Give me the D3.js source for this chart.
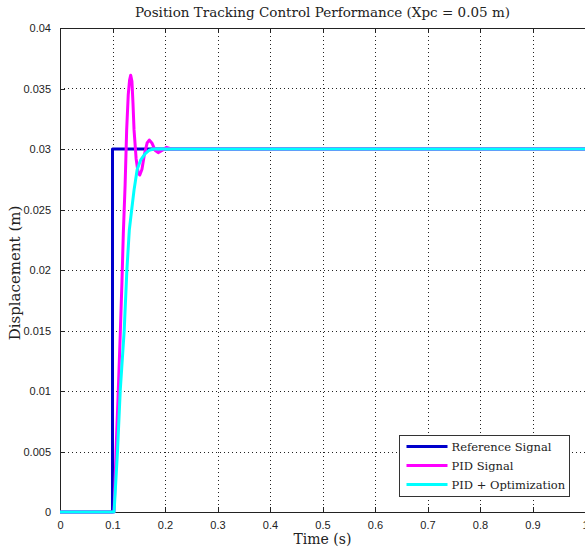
<!DOCTYPE html>
<html>
<head>
<meta charset="utf-8">
<script src="https://cdn.jsdelivr.net/npm/d3@7"></script>
<style>
  body { margin: 0; background: #fff; }
  .grid line { stroke: #222; stroke-dasharray: 1,3; shape-rendering: crispEdges; }
  .axis text { font-family: "Liberation Sans", Arial, sans-serif; font-size: 11px; fill: #222; }
  .axis path, .axis line { stroke: #222; shape-rendering: crispEdges; }
  .serif { font-family: "DejaVu Serif", serif; fill: #222; }
</style>
</head>
<body>
<div id="chart"></div>
<script>
// data
var xTicks = [0, 0.1, 0.2, 0.3, 0.4, 0.5, 0.6, 0.7, 0.8, 0.9, 1];
var xTickLabels = ["0", "0.1", "0.2", "0.3", "0.4", "0.5", "0.6", "0.7", "0.8", "0.9", "1"];
var yTicks = [0, 0.005, 0.01, 0.015, 0.02, 0.025, 0.03, 0.035, 0.04];
var yTickLabels = ["0", "0.005", "0.01", "0.015", "0.02", "0.025", "0.03", "0.035", "0.04"];

var seriesNames = ["Reference Signal", "PID Signal", "PID + Optimization"];
var seriesColors = ["#0000cc", "#ff00ff", "#00ffff"];

var refTime = [0, 0.1, 0.1, 1.0];
var refValue = [0, 0, 0.03, 0.03];

var pidTime = [0, 0.103, 0.1067, 0.111, 0.115, 0.118, 0.1206, 0.124, 0.127, 0.130, 0.1325, 0.1347,
  0.137, 0.139, 0.141, 0.145, 0.149, 0.152, 0.156, 0.161, 0.166, 0.170, 0.175, 0.181, 0.187,
  0.195, 0.203, 0.212, 1.0];
var pidValue = [0, 0, 0.005, 0.010, 0.015, 0.019, 0.023, 0.027, 0.0316, 0.0345, 0.0357, 0.0361,
  0.0356, 0.0338, 0.0316, 0.0292, 0.0280, 0.02785, 0.0283, 0.0296, 0.0305, 0.03074, 0.0305, 0.0299, 0.0297,
  0.0299, 0.03014, 0.0300, 0.0300];

var optTime = [0, 0.103, 0.1095, 0.1147, 0.1223, 0.1274, 0.132, 0.1366, 0.141, 0.147, 0.1537,
  0.162, 0.170, 0.178, 1.0];
var optValue = [0, 0, 0.005, 0.010, 0.015, 0.020, 0.0233, 0.025, 0.0266, 0.0283, 0.0291,
  0.0296, 0.0299, 0.0300, 0.0300];

var W = 585, H = 552;
var margin = {top: 28, right: 0, bottom: 40, left: 60};
var width = W - margin.left - margin.right,
    height = H - margin.top - margin.bottom;

var svg = d3.select("#chart").append("svg")
    .attr("width", W)
    .attr("height", H);

var g = svg.append("g")
    .attr("transform", "translate(" + margin.left + "," + margin.top + ")");

var x = d3.scaleLinear().domain([0, 1]).range([0, width]);
var y = d3.scaleLinear().domain([0, 0.04]).range([height, 0]);

// dotted grid
g.append("g").attr("class", "grid")
  .selectAll("line").data(xTicks.slice(1, -1)).enter().append("line")
    .attr("x1", function(d) { return Math.round(x(d)) + 0.5; })
    .attr("x2", function(d) { return Math.round(x(d)) + 0.5; })
    .attr("y1", 0).attr("y2", height);
g.append("g").attr("class", "grid")
  .selectAll("line").data(yTicks.slice(1, -1)).enter().append("line")
    .attr("y1", function(d) { return Math.round(y(d)) + 0.5; })
    .attr("y2", function(d) { return Math.round(y(d)) + 0.5; })
    .attr("x1", 0).attr("x2", width);

// axes, ticks pointing inwards like matlab
g.append("g")
    .attr("class", "axis")
    .attr("transform", "translate(0," + height + ")")
    .call(d3.axisBottom(x).tickValues(xTicks).tickSizeInner(-5).tickSizeOuter(0).tickPadding(9)
      .tickFormat(function(d, i) { return xTickLabels[i]; }));

g.append("g")
    .attr("class", "axis")
    .call(d3.axisLeft(y).tickValues(yTicks).tickSizeInner(-5).tickSizeOuter(0).tickPadding(9)
      .tickFormat(function(d, i) { return yTickLabels[i]; }));

g.append("g")
    .attr("class", "axis")
    .call(d3.axisTop(x).tickValues(xTicks).tickSizeInner(-5).tickSizeOuter(0).tickFormat(""));

// series
var line = d3.line()
    .x(function(d) { return x(d[0]); })
    .y(function(d) { return y(d[1]); });

var series = [
  d3.zip(refTime, refValue),
  d3.zip(pidTime, pidValue),
  d3.zip(optTime, optValue)
];

g.selectAll(".series")
    .data(series)
    .enter().append("path")
    .attr("class", "series")
    .attr("fill", "none")
    .attr("stroke", function(d, i) { return seriesColors[i]; })
    .attr("stroke-width", 3)
    .attr("stroke-linejoin", "round")
    .attr("d", line);

// titles
svg.append("text")
    .attr("class", "serif")
    .attr("x", margin.left + width / 2)
    .attr("y", 17)
    .attr("text-anchor", "middle")
    .style("font-size", "13.5px")
    .text("Position Tracking Control Performance (Xpc = 0.05 m)");

svg.append("text")
    .attr("class", "serif")
    .attr("x", margin.left + width / 2)
    .attr("y", 544)
    .attr("text-anchor", "middle")
    .style("font-size", "14px")
    .text("Time (s)");

svg.append("text")
    .attr("class", "serif")
    .attr("transform", "translate(20," + (margin.top + height / 2 + 3) + ") rotate(-90)")
    .attr("text-anchor", "middle")
    .style("font-size", "15px")
    .text("Displacement (m)");

// legend
var lg = svg.append("g").attr("transform", "translate(399.5,435.5)");
lg.append("rect")
    .attr("width", 170).attr("height", 61)
    .attr("fill", "#fff").attr("stroke", "#333");
var items = lg.selectAll(".item").data(seriesNames).enter().append("g")
    .attr("transform", function(d, i) { return "translate(0," + (11 + i * 19) + ")"; });
items.append("line")
    .attr("x1", 7).attr("x2", 48)
    .attr("stroke", function(d, i) { return seriesColors[i]; })
    .attr("stroke-width", 3);
items.append("text")
    .attr("class", "serif")
    .attr("x", 52).attr("y", 4.5)
    .style("font-size", "11.5px")
    .text(function(d) { return d; });
</script>
</body>
</html>
